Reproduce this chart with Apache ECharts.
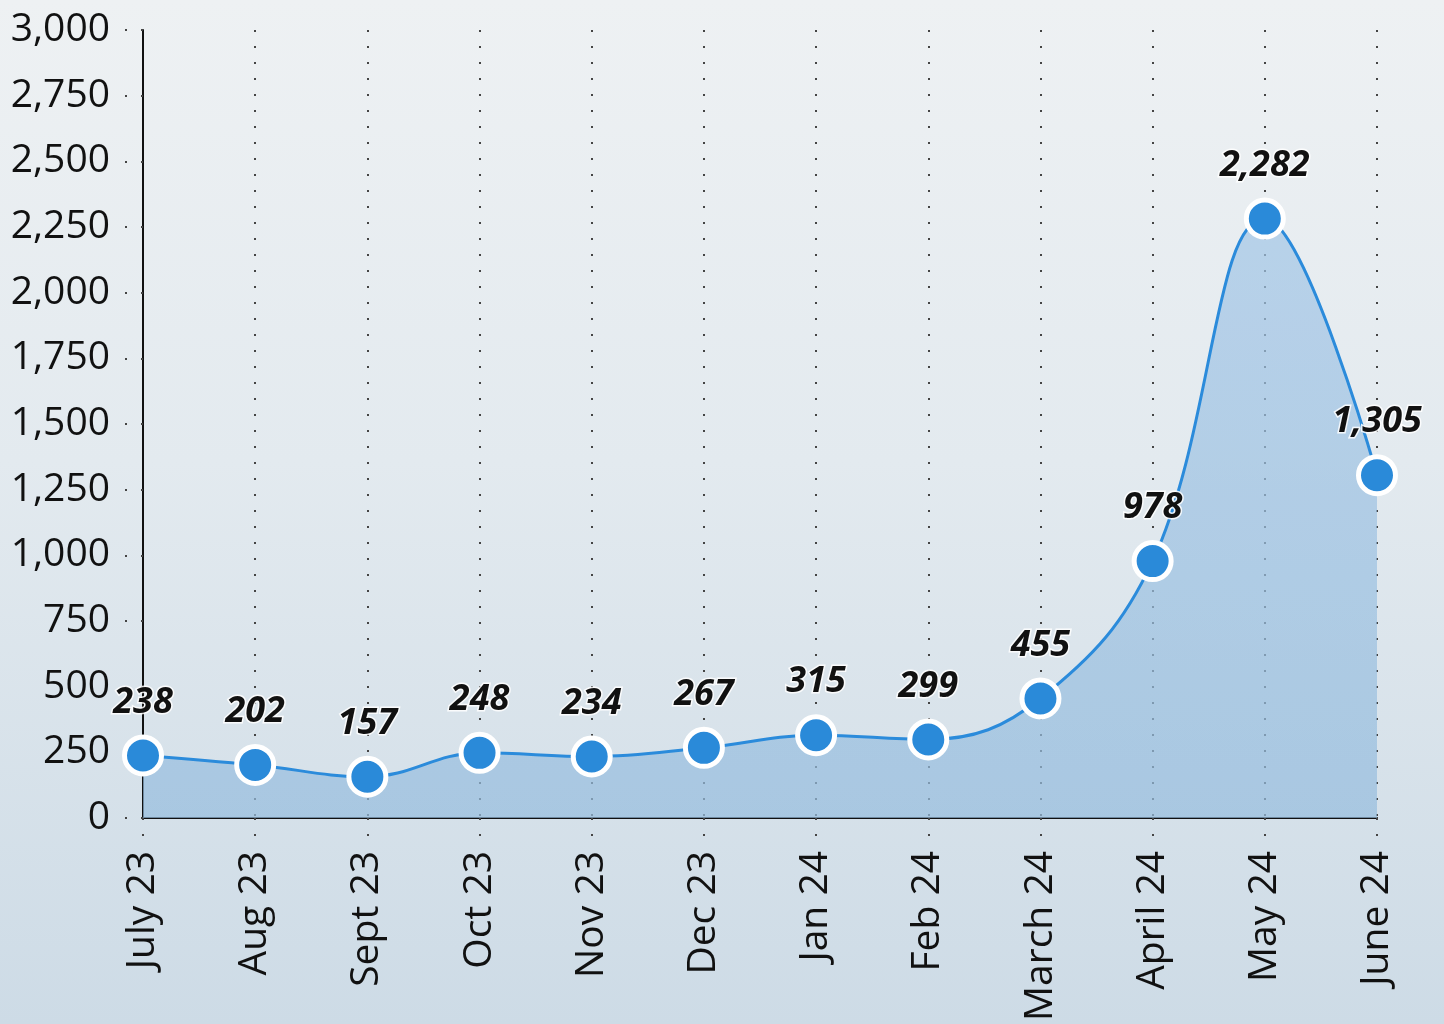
<!DOCTYPE html>
<html>
<head>
<meta charset="utf-8">
<script src="https://cdn.jsdelivr.net/npm/echarts@6/dist/echarts.min.js"></script>
<style>
  html, body { margin: 0; padding: 0; }
  #chart {
    width: 1444px;
    height: 1024px;
    background: linear-gradient(180deg, #eef1f3 0%, #e3eaef 45%, #cddbe6 100%);
  }
</style>
</head>
<body>
<div id="chart"></div>
<script>
// data
const months = ["July 23", "Aug 23", "Sept 23", "Oct 23", "Nov 23", "Dec 23",
  "Jan 24", "Feb 24", "March 24", "April 24", "May 24", "June 24"];
const counts = [238, 202, 157, 248, 234, 267, 315, 299, 455, 978, 2282, 1305];
const yTicks = { min: 0, max: 3000, step: 250 };

const chart = echarts.init(document.getElementById("chart"));

const fmt = (v) => Number(v).toLocaleString("en-US");

const option = {
  animation: false,
  grid: { left: 143, right: 67, top: 30, bottom: 204 },
  xAxis: {
    type: "category",
    data: months,
    boundaryGap: false,
    axisLine: { lineStyle: { color: "#111", width: 2 } },
    axisTick: {
      show: true,
      alignWithLabel: true,
      length: 19,
      lineStyle: { color: "#444", width: 2, type: [2, 14] }
    },
    splitLine: {
      show: true,
      lineStyle: { color: "#444", width: 2, type: [2, 14] }
    },
    axisLabel: {
      rotate: 90,
      margin: 33,
      fontFamily: "Open Sans",
      fontSize: 39,
      color: "#111"
    }
  },
  yAxis: {
    type: "value",
    min: yTicks.min,
    max: yTicks.max,
    interval: yTicks.step,
    axisLine: { show: true, lineStyle: { color: "#111", width: 2 } },
    axisTick: {
      show: true,
      length: 18,
      lineStyle: { color: "#444", width: 2, type: [2, 14] }
    },
    splitLine: { show: false },
    axisLabel: {
      margin: 33,
      fontFamily: "Open Sans",
      fontSize: 39,
      color: "#111",
      formatter: fmt
    }
  },
  series: [{
    type: "line",
    data: counts,
    smooth: 0.4,
    symbol: "circle",
    symbolSize: 37,
    lineStyle: { color: "#2b8bdb", width: 3 },
    itemStyle: { color: "#2a8ad9", borderColor: "#ffffff", borderWidth: 5 },
    areaStyle: {
      color: new echarts.graphic.LinearGradient(0, 0, 0, 1, [
        { offset: 0, color: "#a2c5e5" },
        { offset: 1, color: "#95bcdd" }
      ])
    },
    label: {
      show: true,
      position: "top",
      distance: 14,
      fontFamily: "Open Sans",
      fontSize: 36,
      fontWeight: "bold",
      fontStyle: "italic",
      color: "#111",
      textBorderColor: "rgba(255,255,255,0.85)",
      textBorderWidth: 3,
      formatter: (p) => fmt(p.value)
    },
    z: 3
  }]
};

chart.setOption(option);
</script>
</body>
</html>
